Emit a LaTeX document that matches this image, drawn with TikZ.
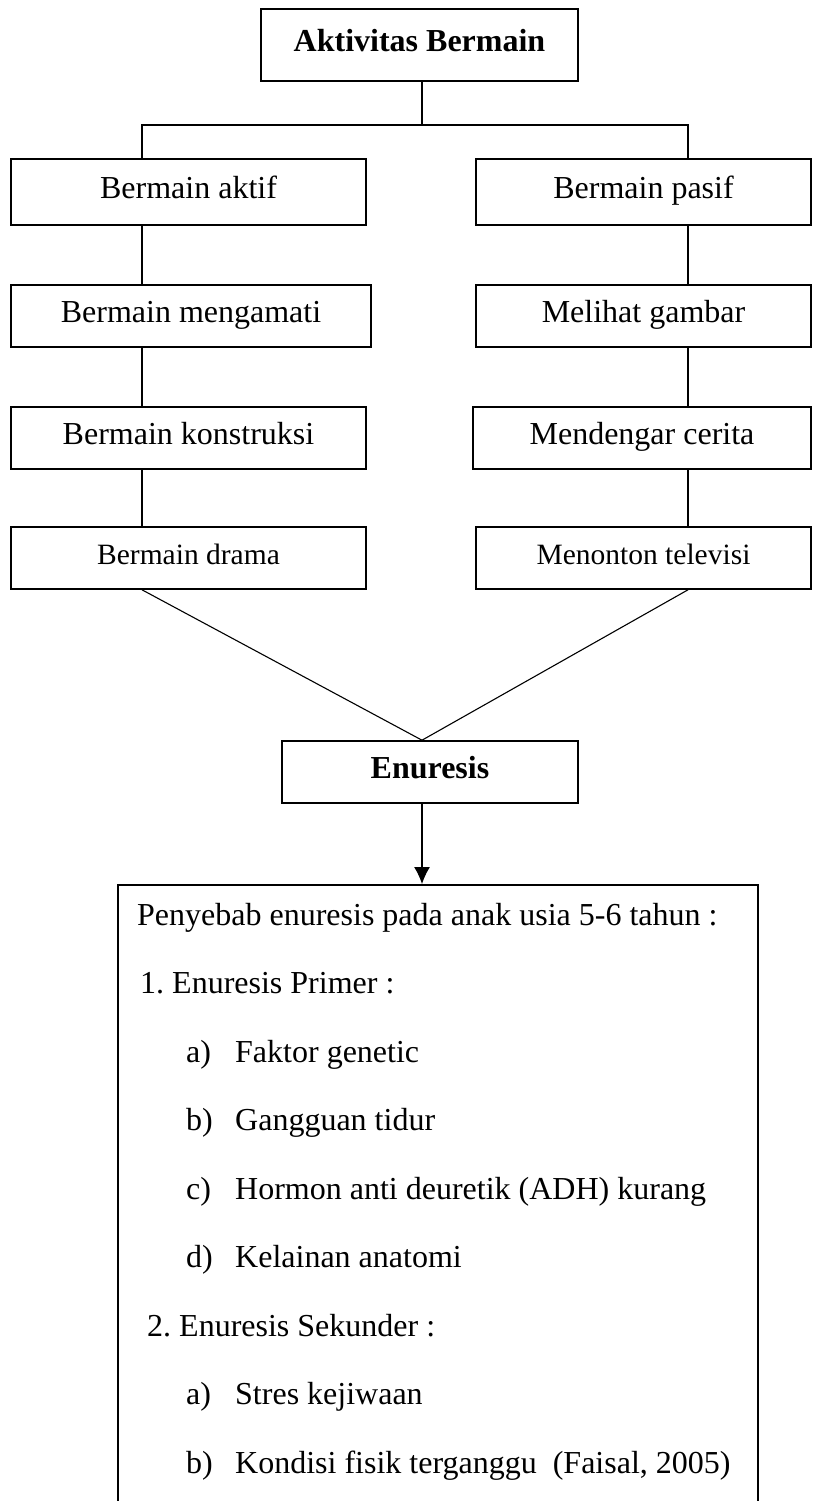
\documentclass[tikz,border=0pt]{standalone}
\usepackage{fontspec}
\setmainfont{Liberation Serif}
\usetikzlibrary{arrows.meta}

\tikzset{
  box/.style={draw,line width=1.6pt,inner sep=0pt,text height=22pt,text depth=9pt,font=\fontsize{32}{38}\selectfont},
  smallbox/.style={box,font=\fontsize{29.5}{35}\selectfont},
  conn/.style={line width=1.1pt},
  itemline/.style={anchor=base west,inner sep=0pt,font=\fontsize{32}{38}\selectfont},
}

\begin{document}
\begin{tikzpicture}[x=1pt,y=-1pt]
  \useasboundingbox (0,0) rectangle (812,1501);
  \coordinate (lx) at (142,0);
  \coordinate (rx) at (688,0);
  \coordinate (mx) at (422,0);
  \coordinate (split) at (422,125);

  % boxes
  \node[box,minimum width=317pt,minimum height=72pt,font=\fontsize{32}{38}\selectfont\bfseries] (top) at (419.5,45) {Aktivitas Bermain};
  \node[box,minimum width=355pt,minimum height=66pt] (aktif) at (188.5,192) {Bermain aktif};
  \node[box,minimum width=335pt,minimum height=66pt] (pasif) at (643.5,192) {Bermain pasif};
  \node[box,minimum width=360pt,minimum height=62pt] (mengamati) at (191,316) {Bermain mengamati};
  \node[box,minimum width=335pt,minimum height=62pt] (gambar) at (643.5,316) {Melihat gambar};
  \node[box,minimum width=355pt,minimum height=62pt] (konstruksi) at (188.5,438) {Bermain konstruksi};
  \node[box,minimum width=338pt,minimum height=62pt] (cerita) at (642,438) {Mendengar cerita};
  \node[smallbox,minimum width=355pt,minimum height=62pt] (drama) at (188.5,558) {Bermain drama};
  \node[smallbox,minimum width=335pt,minimum height=62pt] (televisi) at (643.5,558) {Menonton televisi};
  \node[box,minimum width=296pt,minimum height=62pt,font=\fontsize{32}{38}\selectfont\bfseries] (enuresis) at (430,772) {Enuresis};
  \node[box,minimum width=640pt,minimum height=640pt,anchor=north] (causes) at (438,884) {};

  % connectors
  \draw[conn] (top.south -| mx) -- (split);
  \draw[conn] (aktif.north -| lx) |- (split) -| (pasif.north -| rx);
  \draw[conn] (aktif.south -| lx) -- (mengamati.north -| lx);
  \draw[conn] (mengamati.south -| lx) -- (konstruksi.north -| lx);
  \draw[conn] (konstruksi.south -| lx) -- (drama.north -| lx);
  \draw[conn] (pasif.south -| rx) -- (gambar.north -| rx);
  \draw[conn] (gambar.south -| rx) -- (cerita.north -| rx);
  \draw[conn] (cerita.south -| rx) -- (televisi.north -| rx);
  \draw[conn] (drama.south -| lx) -- (enuresis.north -| mx);
  \draw[conn] (televisi.south -| rx) -- (enuresis.north -| mx);
  \draw[conn,-{Latex[length=17pt,width=16pt]}] (enuresis.south -| mx) -- (causes.north -| mx);

  % text in the big box
  \node[itemline] (cause) at (137,925) {Penyebab enuresis pada anak usia 5-6 tahun :};
  \node[itemline] (primer) at (140,993.5) {1.\ Enuresis Primer :};
  \node[itemline] (sekunder) at (147,1336) {2.\ Enuresis Sekunder :};
  \foreach \y/\m/\t in {1062/a)/Faktor genetic,1130.5/b)/Gangguan tidur,1199/c)/Hormon anti deuretik (ADH) kurang,1267.5/d)/Kelainan anatomi,1404.5/a)/Stres kejiwaan,1473/b)/{Kondisi fisik terganggu\ \ (Faisal, 2005)}} {
    \node[itemline] (mark\y) at (186,\y) {\m};
    \node[itemline] (text\y) at (235,\y) {\t};
  }
\end{tikzpicture}
\end{document}
